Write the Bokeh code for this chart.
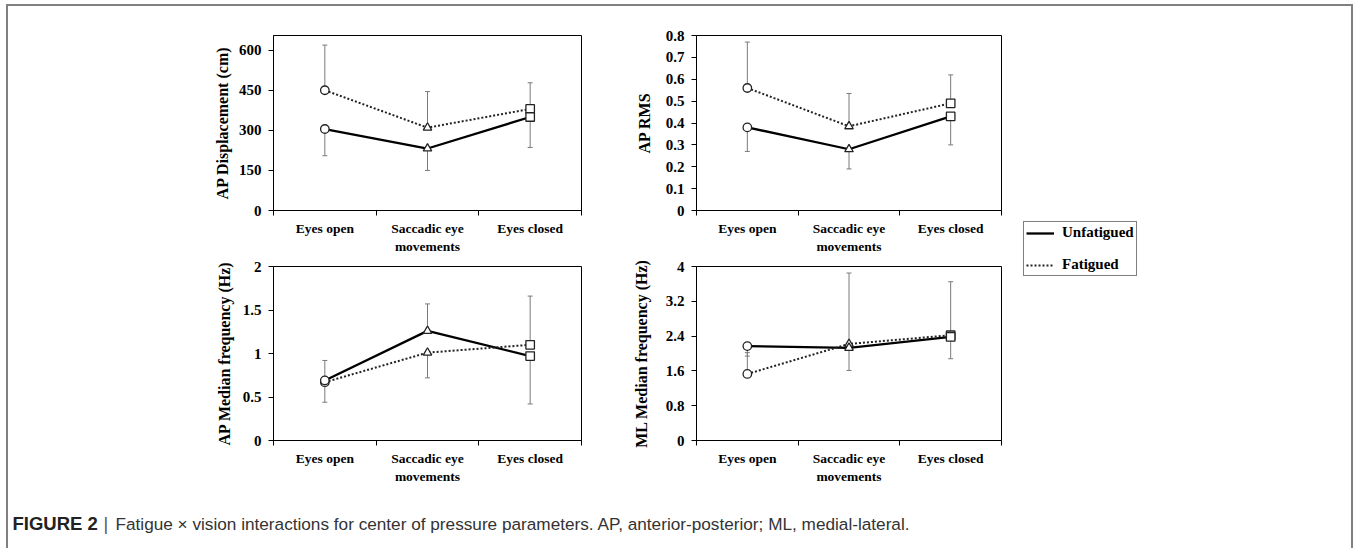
from bokeh.plotting import figure
from bokeh.layouts import row, column
from bokeh.models import Range1d, FixedTicker, Legend, LegendItem, Label, ColumnDataSource
from bokeh.core.properties import field
from bokeh.embed import file_html
from bokeh.resources import INLINE

# ---------------- data ----------------
categories = ["Eyes open", "Saccadic eye\nmovements", "Eyes closed"]
cat_markers = ["circle", "triangle", "square"]
series_names = ["Unfatigued", "Fatigued"]

ap_disp_unf = [305, 232, 350]
ap_disp_fat = [450, 310, 380]
ap_disp_unf_err = [205, 150, 236]
ap_disp_fat_err = [619, 445, 478]
ap_disp_ticks = [0, 150, 300, 450, 600]

ap_rms_unf = [0.38, 0.28, 0.43]
ap_rms_fat = [0.56, 0.385, 0.49]
ap_rms_unf_err = [0.27, 0.19, 0.30]
ap_rms_fat_err = [0.77, 0.535, 0.62]
ap_rms_ticks = [0, 0.1, 0.2, 0.3, 0.4, 0.5, 0.6, 0.7, 0.8]

ap_mf_unf = [0.69, 1.26, 0.97]
ap_mf_fat = [0.67, 1.01, 1.10]
ap_mf_unf_err = [0.92, 1.57, 0.42]
ap_mf_fat_err = [0.44, 0.72, 1.66]
ap_mf_ticks = [0, 0.5, 1, 1.5, 2]

ml_mf_unf = [2.17, 2.13, 2.38]
ml_mf_fat = [1.53, 2.22, 2.42]
ml_mf_unf_err = [1.94, 1.61, 1.88]
ml_mf_fat_err = [2.02, 3.85, 3.65]
ml_mf_ticks = [0, 0.8, 1.6, 2.4, 3.2, 4]

SERIF = "Liberation Serif"
ERR = "#7a7a7a"


def make_panel(width, height, bl, br, bt, bb, ymax, yticks, ylabel,
               unf, fat, unf_err, fat_err, title_standoff):
    n = len(categories)
    xs = [i + 0.5 for i in range(n)]
    p = figure(width=width, height=height, x_range=Range1d(0, n),
               y_range=Range1d(0, ymax), output_backend="svg",
               toolbar_location=None)
    p.min_border_left = bl
    p.min_border_right = br
    p.min_border_top = bt
    p.min_border_bottom = bb
    p.grid.visible = False
    p.outline_line_color = "black"
    p.outline_line_width = 1
    p.background_fill_color = "white"
    p.border_fill_color = "white"

    xa = p.xaxis[0]
    xa.ticker = FixedTicker(ticks=xs, minor_ticks=list(range(n + 1)))
    xa.major_label_overrides = {x: c for x, c in zip(xs, categories)}
    xa.major_tick_out = 0
    xa.major_tick_in = 0
    xa.minor_tick_out = 5
    xa.minor_tick_in = 0
    xa.minor_tick_line_color = "black"
    xa.axis_line_color = "black"
    xa.major_label_standoff = 5
    xa.major_label_text_font = SERIF
    xa.major_label_text_font_style = "bold"
    xa.major_label_text_font_size = "13.5px"
    xa.major_label_text_color = "black"
    xa.major_label_text_line_height = 1.2

    ya = p.yaxis[0]
    ya.ticker = FixedTicker(ticks=yticks, minor_ticks=[])
    ya.major_tick_out = 5
    ya.major_tick_in = 0
    ya.minor_tick_out = 0
    ya.major_tick_line_color = "black"
    ya.axis_line_color = "black"
    ya.major_label_standoff = 7
    ya.major_label_text_font = SERIF
    ya.major_label_text_font_style = "bold"
    ya.major_label_text_font_size = "15px"
    ya.major_label_text_color = "black"
    ya.axis_label = ylabel
    ya.axis_label_text_font = SERIF
    ya.axis_label_text_font_style = "bold"
    ya.axis_label_text_font_size = "16px"
    ya.axis_label_text_color = "black"
    ya.axis_label_standoff = title_standoff

    # error bars
    for vals, ends in ((unf, unf_err), (fat, fat_err)):
        p.segment(x0=xs, y0=vals, x1=xs, y1=ends, line_color=ERR, line_width=1)
        p.scatter(x=xs, y=ends, marker="dash", size=5, line_color=ERR, line_width=1)

    # lines
    p.line(xs, unf, line_color="black", line_width=2.3)
    p.line(xs, fat, line_color="#222222", line_width=2, line_dash="2 2")

    # markers
    for vals in (fat, unf):
        src = ColumnDataSource(dict(x=xs, y=vals, m=cat_markers))
        p.scatter(x="x", y="y", marker=field("m"), size=8.5, source=src,
                  fill_color="white", line_color="#222222", line_width=1.3)
    return p


W1, W2, W3 = 621, 381, 341
H1, H2, H3 = 254, 230, 58

f1 = make_panel(W1, H1, 265, 48, 29, 50, 655, ap_disp_ticks, "AP Displacement (cm)",
                ap_disp_unf, ap_disp_fat, ap_disp_unf_err, ap_disp_fat_err, 5)
f2 = make_panel(W2, H1, 64, 9, 29, 50, 0.8, ap_rms_ticks, "AP RMS",
                ap_rms_unf, ap_rms_fat, ap_rms_unf_err, ap_rms_fat_err, 10)
f3 = make_panel(W1, H2, 265, 48, 6, 50, 2, ap_mf_ticks, "AP Median frequency (Hz)",
                ap_mf_unf, ap_mf_fat, ap_mf_unf_err, ap_mf_fat_err, 7)
f4 = make_panel(W2, H2, 64, 9, 6, 50, 4, ml_mf_ticks, "ML Median frequency (Hz)",
                ml_mf_unf, ml_mf_fat, ml_mf_unf_err, ml_mf_fat_err, 13)

# legend figure (sample lines lie outside its visible range; only the legend shows)
lf = figure(width=W3, height=H1 + H2, x_range=Range1d(0, 1), y_range=Range1d(0, 1),
            x_axis_type=None, y_axis_type=None, output_backend="svg",
            toolbar_location=None, min_border=0)
lf.grid.visible = False
lf.outline_line_color = None
idx = list(range(len(categories)))
r_unf = lf.line(idx, ap_disp_unf, line_color="black", line_width=2.3)
r_fat = lf.line(idx, ap_disp_fat, line_color="#222222", line_width=2, line_dash="2 2")
legend = Legend(items=[LegendItem(label=series_names[0], renderers=[r_unf]),
                       LegendItem(label=series_names[1], renderers=[r_fat])],
                location=(13, 214), orientation="vertical",
                glyph_width=28, glyph_height=12, label_height=12,
                label_standoff=8, padding=2, spacing=15, margin=0,
                border_line_color="black", border_line_width=1,
                background_fill_color="white", background_fill_alpha=1,
                label_text_font=SERIF, label_text_font_style="bold",
                label_text_font_size="15px", label_text_color="black")
lf.add_layout(legend)

# caption figure
cf = figure(width=W1 + W2 + W3, height=H3, x_range=Range1d(0, 1), y_range=Range1d(0, 1),
            x_axis_type=None, y_axis_type=None, output_backend="svg",
            toolbar_location=None, min_border=0)
cf.grid.visible = False
cf.outline_line_color = None
cf.add_layout(Label(x=4, y=25, x_units="screen", y_units="screen", text="FIGURE 2",
                    text_font="Liberation Sans", text_font_style="bold",
                    text_font_size="18.5px", text_color="#222222", text_baseline="middle"))
cf.add_layout(Label(x=95, y=25, x_units="screen", y_units="screen", text="|",
                    text_font="Liberation Sans", text_font_size="18px",
                    text_color="#555555", text_baseline="middle"))
cf.add_layout(Label(x=107, y=25, x_units="screen", y_units="screen",
                    text="Fatigue \u00d7 vision interactions for center of pressure parameters. "
                         "AP, anterior-posterior; ML, medial-lateral.",
                    text_font="Liberation Sans", text_font_size="17.2px",
                    text_color="#333333", text_baseline="middle"))

layout = column(row(column(f1, f3), column(f2, f4), lf), cf,
                styles={"border-top": "2px solid #808080",
                        "border-left": "2px solid #808080",
                        "border-right": "2px solid #808080",
                        "margin-left": "6px",
                        "margin-top": "4px"})

html = file_html(layout, INLINE)
open("out.html", "w").write(html)
